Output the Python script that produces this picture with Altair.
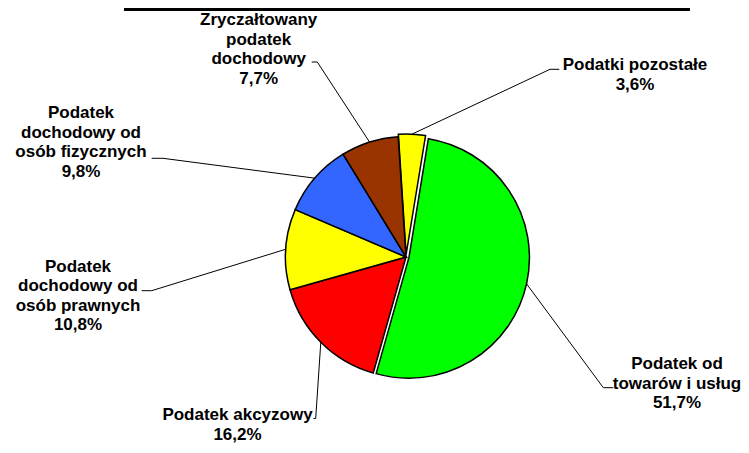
import math
import altair as alt
import pandas as pd

# ---- data ----
labels = [
    "Podatki pozostałe",
    "Podatek od towarów i usług",
    "Podatek akcyzowy",
    "Podatek dochodowy od osób prawnych",
    "Podatek dochodowy od osób fizycznych",
    "Zryczałtowany podatek dochodowy",
]
values = [3.6, 51.7, 16.2, 10.8, 9.8, 7.7]
label_text = [
    "Podatki pozostałe",
    "Podatek od\ntowarów i usług",
    "Podatek akcyzowy",
    "Podatek\ndochodowy od\nosób prawnych",
    "Podatek\ndochodowy od\nosób fizycznych",
    "Zryczałtowany\npodatek\ndochodowy",
]
colors = ["#FFFF00", "#00FF00", "#FF0000", "#FFFF00", "#3366FF", "#993300"]

# ---- layout (page pixel coordinates) ----
W, H = 733, 437
CX, CY, R = 406, 257, 120.5
START = math.radians(-3.7)
explode = [2.5, 3, 0, 0, 0, 0]
label_pos = [(635, 70), (677, 369.3), (237.5, 420.0), (78, 271.7), (81, 118.3), (258.7, 25)]
leader_pts = [
    [(550, 69.3), (559.3, 69.3)],
    [(603.3, 387.7), (613.3, 387.7)],
    [(315.7, 418.5), (313.5, 418.5)],
    [(151.7, 290.7), (141.7, 290.7)],
    [(163, 158.3), (151.7, 158.3)],
    [(317.3, 62), (311.7, 62)],
]

total = sum(values)
rows, lrows, trows = [], [], []
cum = 0.0
for i, (lab, v) in enumerate(zip(labels, values)):
    v0, v1 = cum, cum + v
    cum = v1
    mid = START + 2 * math.pi * (v0 + v1) / 2 / total
    ex = explode[i]
    cx = CX + ex * math.sin(mid)
    cy = CY - ex * math.cos(mid)
    rows.append(dict(label=lab, v0=v0, v1=v1, cx=cx, cy=cy))
    edge = (cx + R * math.sin(mid), cy - R * math.cos(mid))
    pts = [edge] + leader_pts[i]
    for k, (px, py) in enumerate(pts):
        lrows.append(dict(label=lab, k=k, x=px, y=py))
    pct = f"{v:.1f}".replace(".", ",") + "%"
    trows.append(dict(label=lab, text=label_text[i] + "\n" + pct,
                      x=label_pos[i][0], y=label_pos[i][1]))

slices = pd.DataFrame(rows)
leaders = pd.DataFrame(lrows)
texts = pd.DataFrame(trows)
topline = pd.DataFrame([dict(x=124, x2=690, y=9.5)])

xs = alt.Scale(domain=[8, 8 + W], range=[0, W])
ys = alt.Scale(domain=[8, 8 + H], range=[0, H])
theta_scale = alt.Scale(domain=[0, total],
                        range=[START + 2 * math.pi, START + 4 * math.pi])

arcs = alt.Chart(slices).mark_arc(radius=R, stroke="black", strokeWidth=1.5).encode(
    x=alt.X("cx:Q", scale=xs, axis=None),
    y=alt.Y("cy:Q", scale=ys, axis=None),
    theta=alt.Theta("v0:Q", scale=theta_scale),
    theta2="v1:Q",
    color=alt.Color("label:N", scale=alt.Scale(domain=labels, range=colors), legend=None),
)

lines = alt.Chart(leaders).mark_line(color="black", strokeWidth=1).encode(
    x=alt.X("x:Q", scale=xs, axis=None),
    y=alt.Y("y:Q", scale=ys, axis=None),
    detail="label:N",
    order="k:O",
)

text = alt.Chart(texts).mark_text(
    font="Liberation Sans", fontWeight="bold", fontSize=17, lineBreak="\n",
    lineHeight=19.6, align="center", baseline="alphabetic", color="black",
).encode(
    x=alt.X("x:Q", scale=xs, axis=None),
    y=alt.Y("y:Q", scale=ys, axis=None),
    text="text:N",
)

top = alt.Chart(topline).mark_rule(color="black", strokeWidth=3).encode(
    x=alt.X("x:Q", scale=xs, axis=None),
    x2="x2:Q",
    y=alt.Y("y:Q", scale=ys, axis=None),
)

chart = alt.layer(top, arcs, lines, text).properties(
    width=W, height=H, padding=0,
    autosize=alt.AutoSizeParams(type="none"),
    background="white",
).configure_view(stroke=None)

chart.save("out.html", embed_options={"renderer": "svg", "actions": False})
